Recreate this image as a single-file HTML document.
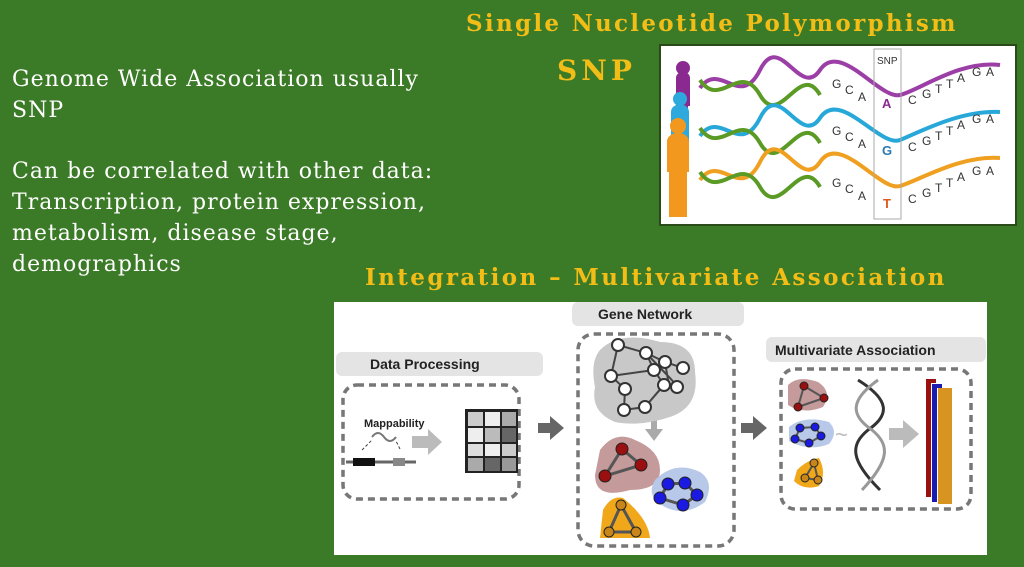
<!DOCTYPE html>
<html><head><meta charset="utf-8"><style>
html,body{margin:0;padding:0;background:#3b7a27;}
svg{display:block}
</style></head><body>
<svg width="1024" height="567" viewBox="0 0 1024 567" xmlns="http://www.w3.org/2000/svg">
<rect width="1024" height="567" fill="#3b7a27"/>
<g font-family="DejaVu Serif, serif" font-size="22" fill="#fff" letter-spacing="1">
<text x="12" y="86">Genome Wide Association usually</text>
<text x="12" y="117">SNP</text>
<text x="12" y="178">Can be correlated with other data:</text>
<text x="12" y="209">Transcription, protein expression,</text>
<text x="12" y="240">metabolism, disease stage,</text>
<text x="12" y="271">demographics</text>
</g>
<g font-family="DejaVu Serif, serif" font-weight="bold" fill="#f2bd17">
<text x="466" y="31" font-size="23" letter-spacing="2.3">Single Nucleotide Polymorphism</text>
<text x="557" y="80" font-size="28" letter-spacing="4">SNP</text>
<text x="365" y="285" font-size="23" letter-spacing="2.4">Integration – Multivariate Association</text>
</g>
<!-- SNP panel -->
<rect x="660" y="45" width="356" height="180" fill="#fff" stroke="#2a4a1a" stroke-width="2"/>
<g>
<path d="M676 78 c0-8 14-8 14 0 v28 l-2 0 v25 h-10 v-25 h-2z" fill="#8a2a90"/>
<circle cx="683" cy="68" r="7" fill="#8a2a90"/>
<path d="M671 112 c0-10 18-10 18 0 v30 l-2 0 v25 h-14 v-25 h-2z" fill="#2ea9dd"/>
<circle cx="680" cy="99" r="7" fill="#2ea9dd"/>
<path d="M667 142 c0-12 22-12 22 0 v30 l-2 0 v45 h-18 v-45 h-2z" fill="#f3981f"/>
<circle cx="678" cy="126" r="8" fill="#f3981f"/>
</g>
<g fill="none" stroke-width="4">
<path d="M700 88 C720 60,740 110,760 70 S800 100,820 70 S880 100,900 95 S960 60,1000 65" stroke="#9b3ea6"/>
<path d="M700 80 C720 110,740 60,760 95 S800 60,820 95" stroke="#5a9a25"/>
<path d="M700 136 C720 108,740 158,760 118 S800 148,820 118 S880 148,900 140 S960 110,1000 112" stroke="#27a8d8"/>
<path d="M700 128 C720 158,740 108,760 143 S800 108,820 143" stroke="#5a9a25"/>
<path d="M700 180 C720 152,740 202,760 162 S800 192,820 162 S880 192,900 186 S960 155,1000 158" stroke="#f0a020"/>
<path d="M700 172 C720 202,740 152,760 187 S800 152,820 187" stroke="#5a9a25"/>
</g>
<rect x="874" y="49" width="27" height="170" fill="none" stroke="#aaa"/>
<text x="877" y="64" font-family="Liberation Sans, sans-serif" font-size="10" fill="#333">SNP</text>
<g font-family="Liberation Sans, sans-serif" font-size="12" fill="#333">
<text x="832" y="88">G</text><text x="845" y="94">C</text><text x="858" y="101">A</text>
<text x="908" y="104">C</text><text x="922" y="98">G</text><text x="935" y="93">T</text><text x="946" y="88">T</text><text x="957" y="82">A</text><text x="972" y="76">G</text><text x="986" y="76">A</text>
<text x="832" y="135">G</text><text x="845" y="141">C</text><text x="858" y="148">A</text>
<text x="908" y="151">C</text><text x="922" y="145">G</text><text x="935" y="140">T</text><text x="946" y="135">T</text><text x="957" y="129">A</text><text x="972" y="123">G</text><text x="986" y="123">A</text>
<text x="832" y="187">G</text><text x="845" y="193">C</text><text x="858" y="200">A</text>
<text x="908" y="203">C</text><text x="922" y="197">G</text><text x="935" y="192">T</text><text x="946" y="187">T</text><text x="957" y="181">A</text><text x="972" y="175">G</text><text x="986" y="175">A</text>
</g>
<g font-family="Liberation Sans, sans-serif" font-size="13" font-weight="bold">
<text x="882" y="108" fill="#8a2a90">A</text>
<text x="882" y="155" fill="#2a7ab0">G</text>
<text x="883" y="208" fill="#e05a20">T</text>
</g>
<!-- Integration panel -->
<rect x="334" y="302" width="653" height="253" fill="#fff"/>
<g font-family="Liberation Sans, sans-serif" font-weight="bold" font-size="14" fill="#222">
<rect x="336" y="352" width="207" height="24" rx="6" fill="#e4e4e4"/>
<text x="370" y="369">Data Processing</text>
<rect x="572" y="302" width="172" height="24" rx="6" fill="#e4e4e4"/>
<text x="598" y="319">Gene Network</text>
<rect x="766" y="337" width="220" height="25" rx="6" fill="#e4e4e4"/>
<text x="775" y="355">Multivariate Association</text>
<text x="364" y="427" font-size="11">Mappability</text>
</g>
<g fill="none" stroke="#777" stroke-width="3.5" stroke-dasharray="7 5">
<rect x="343" y="385" width="176" height="114" rx="14"/>
<rect x="578" y="334" width="156" height="212" rx="16"/>
<rect x="781" y="369" width="190" height="140" rx="14"/>
</g>
<line x1="346" y1="462" x2="416" y2="462" stroke="#666" stroke-width="3"/>
<rect x="353" y="458" width="22" height="8" fill="#111"/>
<rect x="393" y="458" width="12" height="8" fill="#888"/>
<path d="M362 450 L372 440 M400 449 L396 441" stroke="#444" stroke-dasharray="3 2"/>
<path d="M372 437 q6-8 12 0 t12 0" fill="none" stroke="#777" stroke-width="2"/>
<path d="M412 436 h16 v-7 l14 13 l-14 13 v-7 h-16z" fill="#bbb"/>
<rect x="465" y="409" width="53" height="64" fill="#222"/>
<g fill="#ccc"><rect x="468" y="412" width="15" height="14"/><rect x="485" y="412" width="15" height="14" fill="#eee"/><rect x="502" y="412" width="14" height="14" fill="#aaa"/>
<rect x="468" y="428" width="15" height="14" fill="#eee"/><rect x="485" y="428" width="15" height="14" fill="#bbb"/><rect x="502" y="428" width="14" height="14" fill="#666"/>
<rect x="468" y="444" width="15" height="12" fill="#ddd"/><rect x="485" y="444" width="15" height="12" fill="#eee"/><rect x="502" y="444" width="14" height="12" fill="#ccc"/>
<rect x="468" y="458" width="15" height="13" fill="#aaa"/><rect x="485" y="458" width="15" height="13" fill="#666"/><rect x="502" y="458" width="14" height="13" fill="#999"/></g>
<path d="M538 423 h12 v-7 l14 12 l-14 12 v-7 h-12z" fill="#666"/>
<path d="M741 423 h12 v-7 l14 12 l-14 12 v-7 h-12z" fill="#666"/>
<path d="M889 428 h14 v-8 l16 14 l-16 14 v-8 h-14z" fill="#bbb"/>
<path d="M651 417 h6 v12 h6 l-9 12 l-9 -12 h6z" fill="#aaa"/>
<path d="M600 350 q20-20 60-8 q35 0 35 30 q5 35-25 45 q-30 10-55 5 q-25-10-20-35 q-5-25 5-37z" fill="#c8c8c8"/>
<g stroke="#444" stroke-width="2" fill="none">
<path d="M618 345 L646 353 L665 362 L683 368 M618 345 L611 376 L625 389 L624 410 L645 407 L664 385 L654 370 L646 353 M611 376 L654 370 M646 353 L670 378 L677 386 M665 362 L668 380 L645 407"/>
</g>
<g fill="#fff" stroke="#333" stroke-width="2">
<circle cx="618" cy="345" r="6"/><circle cx="646" cy="353" r="6"/><circle cx="665" cy="362" r="6"/><circle cx="683" cy="368" r="6"/>
<circle cx="611" cy="376" r="6"/><circle cx="654" cy="370" r="6"/><circle cx="625" cy="389" r="6"/><circle cx="664" cy="385" r="6"/><circle cx="677" cy="387" r="6"/>
<circle cx="624" cy="410" r="6"/><circle cx="645" cy="407" r="6"/></g>
<path d="M600 450 q15-20 35-10 q25 10 25 30 q0 20-30 20 q-35 10-35-15z" fill="#c49a9a"/>
<path d="M622 449 L641 465 L605 476 Z" fill="none" stroke="#555" stroke-width="3"/>
<g fill="#9a0f0f" stroke="#222"><circle cx="622" cy="449" r="6"/><circle cx="641" cy="465" r="6"/><circle cx="605" cy="476" r="6"/></g>
<path d="M655 480 q20-20 45-8 q15 10 5 30 q-20 15-40 5 q-20-10-10-27z" fill="#b8c8e8"/>
<path d="M668 484 L685 483 L697 495 L683 505 L660 498 Z" fill="none" stroke="#555" stroke-width="3"/>
<g fill="#1a1ae0" stroke="#222"><circle cx="668" cy="484" r="6"/><circle cx="685" cy="483" r="6"/><circle cx="697" cy="495" r="6"/><circle cx="683" cy="505" r="6"/><circle cx="660" cy="498" r="6"/></g>
<path d="M603 510 q8-15 20-12 q25 20 27 40 h-50z" fill="#f0a81a"/>
<path d="M621 505 L636 532 L609 532 Z" fill="none" stroke="#555" stroke-width="3"/>
<g fill="#c8861a" stroke="#222"><circle cx="621" cy="505" r="5"/><circle cx="636" cy="532" r="5"/><circle cx="609" cy="532" r="5"/></g>
<path d="M788 385 q10-10 30-3 q15 10 5 25 q-20 8-35-2z" fill="#c49a9a"/>
<path d="M804 386 L824 398 L798 407 Z" fill="none" stroke="#555" stroke-width="2"/>
<g fill="#9a0f0f" stroke="#222"><circle cx="804" cy="386" r="4"/><circle cx="824" cy="398" r="4"/><circle cx="798" cy="407" r="4"/></g>
<path d="M789 427 q15-12 40-5 q10 10 0 22 q-20 8-40-3z" fill="#b8c8e8"/>
<path d="M800 428 L815 427 L821 436 L809 443 L795 439 Z" fill="none" stroke="#555" stroke-width="2"/>
<g fill="#1a1ae0" stroke="#222"><circle cx="800" cy="428" r="4"/><circle cx="815" cy="427" r="4"/><circle cx="821" cy="436" r="4"/><circle cx="809" cy="443" r="4"/><circle cx="795" cy="439" r="4"/></g>
<path d="M797 470 q10-10 22-12 q8 15 0 28 q-15 5-25-5z" fill="#f0a81a"/>
<path d="M814 463 L818 480 L805 478 Z" fill="none" stroke="#555" stroke-width="2"/>
<g fill="#c8861a" stroke="#222"><circle cx="814" cy="463" r="4"/><circle cx="818" cy="480" r="4"/><circle cx="805" cy="478" r="4"/></g>
<text x="835" y="442" font-family="Liberation Sans, sans-serif" font-size="22" fill="#bbb">~</text>
<g fill="none" stroke-width="3">
<path d="M858 380 C890 400,890 415,868 430 C850 445,850 460,880 490" stroke="#333"/>
<path d="M878 380 C850 400,850 415,872 430 C890 445,890 460,862 490" stroke="#999"/>
</g>
<rect x="926" y="379" width="5" height="118" fill="#9a1010"/>
<rect x="926" y="379" width="10" height="4" fill="#9a1010"/>
<rect x="932" y="384" width="5" height="118" fill="#1a1ab0"/>
<rect x="932" y="384" width="10" height="4" fill="#1a1ab0"/>
<rect x="938" y="388" width="14" height="116" fill="#d89420"/>
</svg>
</body></html>
